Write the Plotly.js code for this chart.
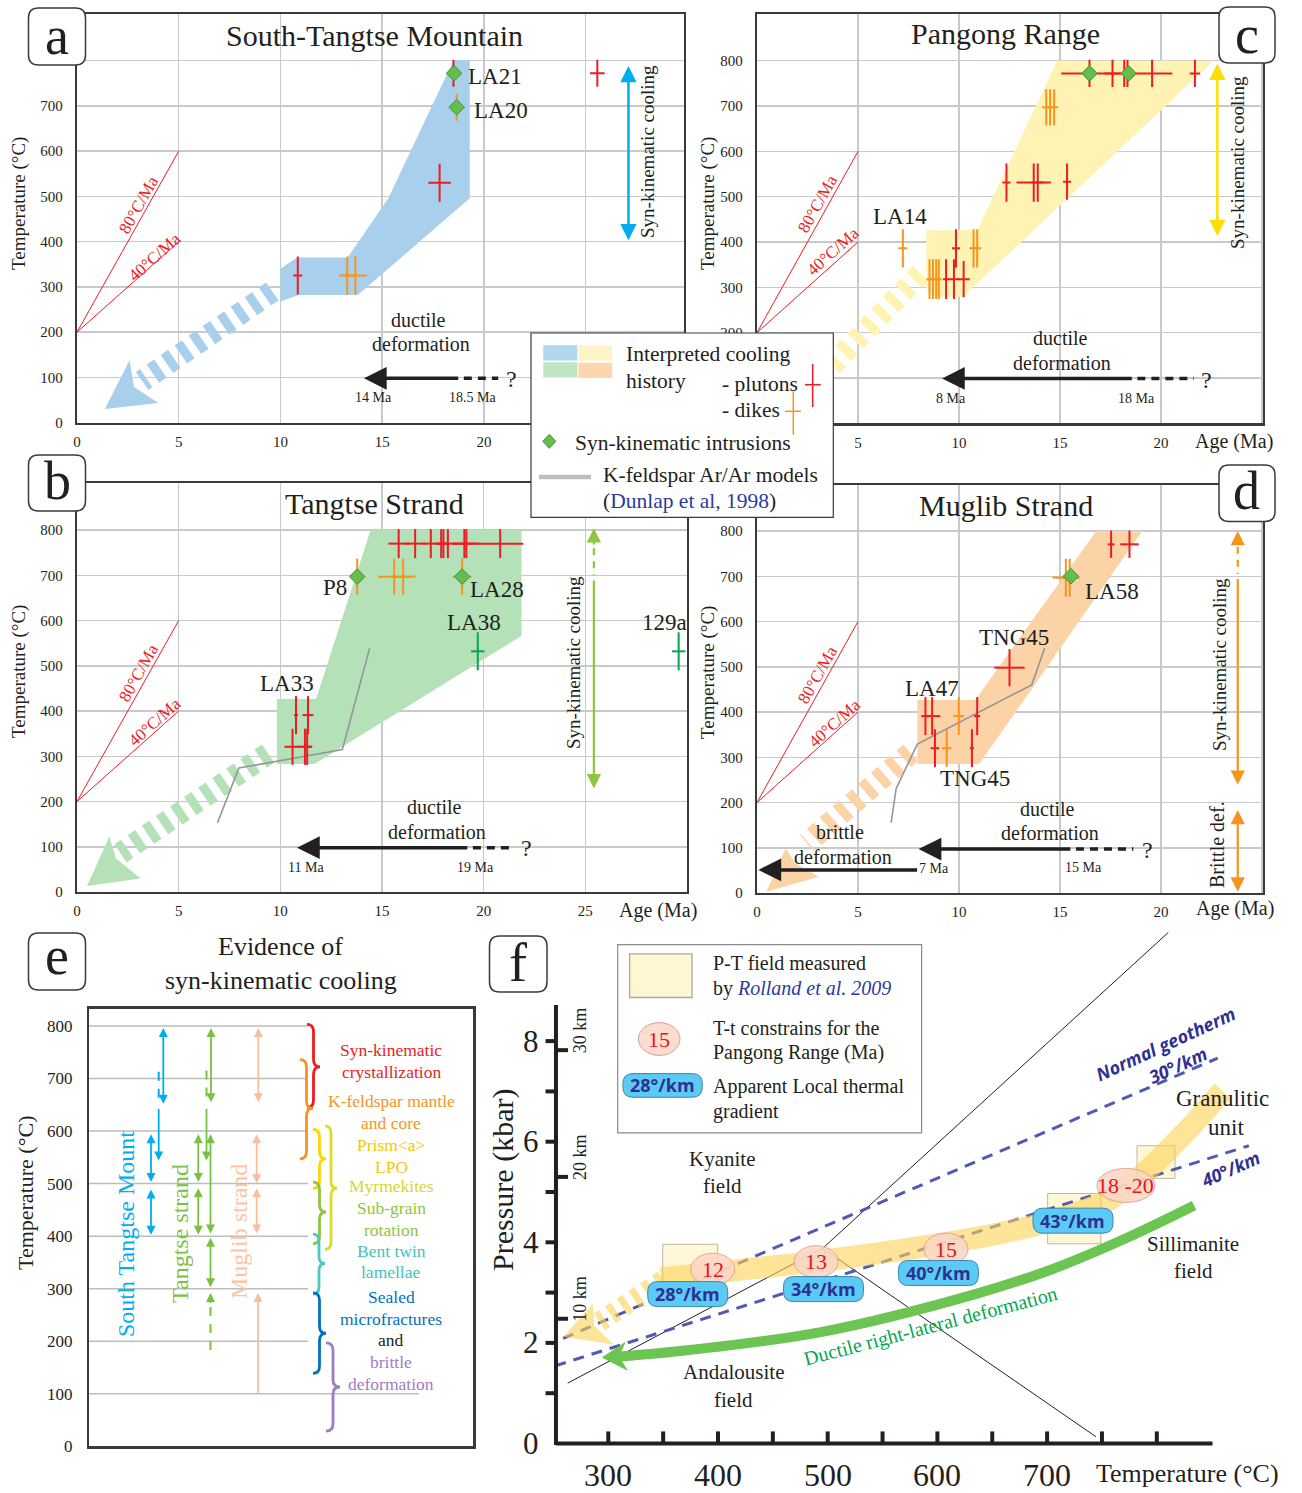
<!DOCTYPE html>
<html>
<head>
<meta charset="utf-8">
<script src="https://cdn.plot.ly/plotly-3.0.1.min.js"></script>
<style>
html,body{margin:0;padding:0;background:#ffffff;}
#chart{width:1302px;height:1493px;}
</style>
</head>
<body>
<div id="chart"></div>
<script>
// ======================= DATA =======================
// shared cooling-rate reference lines (age in Ma, temperature in °C)
const rateAge = [0, 5];
const rate80Temp = [200, 600];
const rate40Temp = [200, 400];

// ---- (a) South-Tangtse Mountain ----
const aBandAge = [10.0, 10.8, 13.3, 15.3, 18.5, 19.3, 19.3, 13.8, 10.9, 10.0];
const aBandTemp = [340, 365, 365, 496, 800, 800, 496, 282, 282, 268];
const aTrendAge = [9.6, 3.2];
const aTrendTemp = [290, 92];
const aHeadAge = [2.58, 1.37, 4.0, 2.8];
const aHeadTemp = [138, 30, 43.5, 79];
const aPlutonAge = [10.85, 17.82, 18.5, 25.57];
const aPlutonTemp = [325, 530, 772, 772];
const aPlutonAgeErr = [0.22, 0.55, 0.05, 0.36];
const aPlutonTempErr = [42, 42, 30, 30];
const aDikeAge = [13.28, 13.68, 18.66];
const aDikeTemp = [325, 325, 697];
const aDikeAgeErr = [0.4, 0.55, 0.05];
const aDikeTempErr = [42, 42, 30];
const aSynAge = [18.53, 18.66];
const aSynTemp = [772, 697];
const aCoolingAge = 27.1;
const aCoolingTemp = [788, 400];
const aDuctileAge = [14.1, 18.81, 20.7];
const aDuctileTemp = 98;

// ---- (c) Pangong Range ----
const cBandAge = [8.38, 10.9, 14.86, 22.6, 10.2, 8.7, 8.38];
const cBandTemp = [426, 426, 800, 800, 279, 279, 300];
const cTrendAge = [8.1, 3.3];
const cTrendTemp = [330, 110];
const cPlutonAge = [9.36, 9.75, 9.85, 10.23, 12.35, 13.7, 13.9, 15.35, 16.46, 17.6, 18.18, 18.34, 19.56, 21.68];
const cPlutonTemp = [318, 318, 386, 318, 531, 531, 531, 533, 772, 772, 772, 772, 772, 772];
const cPlutonAgeErr = [0.15, 0.25, 0.2, 0.3, 0.2, 0.85, 0.3, 0.2, 1.4, 0.4, 0.3, 0.3, 1.0, 0.26];
const cPlutonTempErr = [44, 44, 42, 40, 42, 42, 42, 40, 30, 30, 30, 30, 30, 30];
const cDikeAge = [7.22, 8.54, 8.71, 8.87, 9.0, 10.72, 10.9, 14.32, 14.51, 14.71];
const cDikeTemp = [386, 318, 318, 318, 318, 386, 386, 697, 697, 697];
const cDikeAgeErr = [0.22, 0.15, 0.15, 0.15, 0.15, 0.2, 0.2, 0.2, 0.2, 0.2];
const cDikeTempErr = [42, 44, 44, 44, 44, 42, 42, 40, 40, 40];
const cSynAge = [16.46, 18.4];
const cSynTemp = [772, 772];
const cCoolingAge = 22.79;
const cCoolingTemp = [793, 410];
const cDuctileAge = [9.16, 18.63, 21.63];
const cDuctileTemp = 99;

// ---- (b) Tangtse Strand ----
const bBandAge = [9.83, 11.76, 14.44, 21.86, 21.86, 11.69, 9.83];
const bBandTemp = [426.5, 426.5, 800, 800, 566, 283, 283];
const bTrendAge = [9.4, 2.14];
const bTrendTemp = [306, 85.5];
const bHeadAge = [1.59, 0.49, 3.13, 1.92];
const bHeadTemp = [122, 13, 30, 74];
const bKfsAge = [6.91, 7.96, 13.05, 14.39];
const bKfsTemp = [153, 274, 315, 538.5];
const bPlutonAge = [10.77, 11.36, 10.6, 11.21, 11.32, 15.82, 16.63, 17.4, 17.91, 18.02, 18.24, 19.05, 19.15, 20.81];
const bPlutonTemp = [391, 391, 321, 321, 321, 770, 770, 770, 770, 770, 770, 770, 770, 770];
const bPlutonAgeErr = [0.1, 0.27, 0.4, 0.35, 0.25, 0.5, 0.5, 0.4, 0.3, 0.3, 0.4, 0.6, 0.6, 1.14];
const bPlutonTempErr = [42, 42, 40, 40, 40, 32, 32, 32, 32, 32, 32, 32, 32, 32];
const bDikeAge = [13.78, 15.6, 16.04, 18.94];
const bDikeTemp = [697, 697, 697, 697];
const bDikeAgeErr = [0.05, 0.8, 0.6, 0.47];
const bDikeTempErr = [40, 40, 40, 40];
const bOtherAge = [19.71, 29.59];
const bOtherTemp = [532, 532];
const bOtherAgeErr = [0.33, 0.33];
const bOtherTempErr = [42, 42];
const bSynAge = [13.78, 18.94];
const bSynTemp = [697, 697];
const bCoolingAge = 25.42;
const bCoolingTemp = [804, 765, 700, 229];
const bDuctileAge = [10.82, 19.27, 21.36];
const bDuctileTemp = 98;

// ---- (d) Muglib Strand ----
const dBandAge = [7.94, 10.8, 16.8, 19.07, 11.0, 7.94];
const dBandTemp = [426.5, 426.5, 800, 800, 285, 285];
const dTrendAge = [7.6, 2.48];
const dTrendTemp = [310, 110];
const dHeadAge = [1.42, 0.46, 3.06, 1.9];
const dHeadTemp = [98.7, 3, 36, 65.6];
const dKfsAge = [6.64, 6.89, 7.94, 13.6, 14.24];
const dKfsTemp = [155, 231, 329, 460, 541];
const dPlutonAge = [8.34, 8.67, 10.9, 8.81, 10.64, 12.5, 17.53, 18.44];
const dPlutonTemp = [391, 391, 391, 320, 320, 498, 770.6, 770.6];
const dPlutonAgeErr = [0.2, 0.4, 0.15, 0.21, 0.1, 0.75, 0.17, 0.46];
const dPlutonTempErr = [42, 42, 42, 42, 42, 41, 30, 30];
const dDikeAge = [9.99, 9.39, 15.29, 15.48];
const dDikeTemp = [391, 320, 697, 697];
const dDikeAgeErr = [0.27, 0.24, 0.66, 0.5];
const dDikeTempErr = [42, 42, 42, 42];
const dSynAge = [15.54];
const dSynTemp = [700];
const dCoolingAge = 23.8;
const dCoolingTemp = [800, 770, 705, 239];
const dBrittleTemp = [187, 3];
const dDuctileAge = [8.0, 15.59, 18.63];
const dDuctileTemp = 97;
const dBrittleAge = [0.07, 8.0];
const dBrittleArrowTemp = 51;

// ---- (e) Evidence of syn-kinematic cooling (temperature ranges, °C) ----
const eStmRanges = [[796, 649], [645, 544], [594, 500], [489, 400]];
const eStmDashed = [713, 656];
const eTangtseRanges = [[796, 652], [645, 544], [594, 500], [491, 400], [594, 402], [397, 300], [292, 270]];
const eTangtseDashed = [[715, 656], [265, 169]];
const eMuglibRanges = [[796, 652], [594, 498], [491, 402], [292, 98]];
const eEvidenceRanges = [[803, 645, 722], [736, 547, 643], [603, 491, 547], [610, 375, 491],
                         [503, 386, 446], [404, 290, 348], [292, 139, 215], [197, 29, 113]];
const eEvidenceLines = ['Syn-kinematic', 'crystallization', 'K-feldspar mantle', 'and core', 'Prism&lt;a&gt;', 'LPO',
                        'Myrmekites', 'Sub-grain', 'rotation', 'Bent twin', 'lamellae', 'Sealed', 'microfractures',
                        'and', 'brittle', 'deformation'];
const eTempTicks = [0, 100, 200, 300, 400, 500, 600, 700, 800];

// ---- (f) P-T diagram (T in °C, P in kbar) ----
const pangongT = [348, 405, 490, 600, 657, 718, 761, 794, 827, 860];
const pangongP = [3.28, 3.42, 3.62, 3.96, 4.18, 4.51, 4.91, 5.49, 6.21, 7.01];
const pangongTrendT = [350, 292];
const pangongTrendP = [3.25, 2.42];
const pangongHeadT = [286, 259, 304.6, 287];
const pangongHeadP = [2.78, 2.12, 1.97, 2.35];
const ductileT = [834, 775, 704, 633, 495, 374, 310];
const ductileP = [4.73, 4.11, 3.46, 2.96, 2.22, 1.86, 1.73];
const ductileHeadT = [316, 294, 318, 310];
const ductileHeadP = [2.03, 1.71, 1.44, 1.73];
const geo30T = [258.8, 855.5];
const geo30P = [2.09, 7.66];
const geo40T = [251.7, 883.9];
const geo40P = [1.545, 5.92];
const andKyT = [263, 495.4];
const andKyP = [1.2, 3.88];
const kySilT = [495.4, 810.5];
const kySilP = [3.88, 10.16];
const andSilT = [495.4, 744.5];
const andSilP = [3.88, 0.135];
const ptFieldT0 = [349.6, 700.5, 782];
const ptFieldT1 = [399.7, 749, 816.6];
const ptFieldP0 = [3.18, 3.97, 5.27];
const ptFieldP1 = [3.96, 4.97, 5.92];
const ttLabels = ['12', '13', '15', '18 -20'];
const ttT = [395.2, 489.4, 607.8, 771.9];
const ttP = [3.465, 3.615, 3.865, 5.13];
const gradLabels = ['28°/km', '34°/km', '40°/km', '43°/km'];
const gradT = [372.4, 496.2, 600.9, 723.6];
const gradP = [2.97, 3.07, 3.39, 4.43];
const fTempTicks = [300, 400, 500, 600, 700];
const fTempMinor = [350, 450, 550, 650, 750, 800];
const fPressTicks = [0, 2, 4, 6, 8];
const fPressMinor = [1, 2, 3, 4, 5, 6, 7, 8];
const depthKm = ['10 km', '20 km', '30 km'];
const depthP = [2.48, 5.3, 7.82];
const fAxisT = [252.3, 850.8];
const fAxisP = [0, 8.72];

// ======================= HELPERS =======================
const W = 1302, H = 1493;
const SERIF = "'Liberation Serif','Times New Roman',Times,serif";
const SANS = "'Open Sans','Liberation Sans',Arial,sans-serif";
const INK = '#231F20', RED = '#ED1C24', ORANGE = '#F7941D', NAVY = '#2E3192', LINKBLUE = '#2B3A9F';
const X = px => px / W;
const Y = py => 1 - py / H;
const AX = { a: ['x', 'y'], c: ['x2', 'y2'], b: ['x3', 'y3'], d: ['x4', 'y4'], e: ['x5', 'y5'], f: ['x6', 'y6'] };

// f-panel pixel mapping used for its axis ranges
const F_PX0 = 608.3, F_KX = 1.097, F_PY0 = 1443.5, F_KY = 50.3;
const fT = px => 300 + (px - F_PX0) / F_KX;
const fP = py => (F_PY0 - py) / F_KY;
const fpx = t => F_PX0 + (t - 300) * F_KX;
const fpy = p => F_PY0 - p * F_KY;

const traces = [], shapes = [], ann = [];

function txt(text, px, py, size, o) {
  o = o || {};
  ann.push({
    text: text, x: X(px), y: Y(py), xref: 'paper', yref: 'paper', showarrow: false,
    xanchor: o.anchor || 'center', yanchor: 'middle', align: o.anchor || 'center',
    textangle: o.angle || 0,
    font: { family: o.family || SERIF, size: size, color: o.color || INK,
            weight: o.weight || 'normal', style: o.style || 'normal' }
  });
}
function fillPoly(p, xs, ys, color) {
  traces.push({ type: 'scatter', mode: 'lines', x: xs, y: ys, xaxis: AX[p][0], yaxis: AX[p][1],
    fill: 'toself', fillcolor: color, line: { width: 0, color: 'rgba(0,0,0,0)' }, hoverinfo: 'skip' });
}
function pathT(p, xs, ys, color, width, dash, shape) {
  traces.push({ type: 'scatter', mode: 'lines', x: xs, y: ys, xaxis: AX[p][0], yaxis: AX[p][1],
    line: { color: color, width: width, dash: dash || 'solid', shape: shape || 'linear', smoothing: 1 }, hoverinfo: 'skip' });
}
function crosses(p, xs, ys, ex, ey, color) {
  traces.push({ type: 'scatter', mode: 'markers', x: xs, y: ys, xaxis: AX[p][0], yaxis: AX[p][1],
    marker: { size: 2, color: 'rgba(0,0,0,0)' },
    error_x: { type: 'data', array: ex, visible: true, color: color, thickness: 2, width: 0 },
    error_y: { type: 'data', array: ey, visible: true, color: color, thickness: 2, width: 0 },
    hoverinfo: 'skip' });
}
function diamonds(p, xs, ys) {
  traces.push({ type: 'scatter', mode: 'markers', x: xs, y: ys, xaxis: AX[p][0], yaxis: AX[p][1],
    marker: { symbol: 'diamond', size: 12, color: '#66BD4A', line: { color: '#2F9A3C', width: 1 } }, hoverinfo: 'skip' });
}
function arrow(p, x0, y0, x1, y1, color, width, size, both) {
  ann.push({ xref: AX[p][0], yref: AX[p][1], axref: AX[p][0], ayref: AX[p][1],
    x: x1, y: y1, ax: x0, ay: y0, text: '', showarrow: true,
    arrowhead: 2, arrowsize: size, arrowwidth: width, arrowcolor: color,
    arrowside: both ? 'end+start' : 'end', startarrowhead: 2, startarrowsize: size,
    standoff: 0, startstandoff: 0 });
}
function dLine(p, x0, y0, x1, y1, color, width, layer) {
  shapes.push({ type: 'line', xref: AX[p][0], yref: AX[p][1], x0: x0, y0: y0, x1: x1, y1: y1,
    line: { color: color, width: width }, layer: layer || 'above' });
}
function pLine(x0, y0, x1, y1, color, width) {
  shapes.push({ type: 'line', xref: 'paper', yref: 'paper', x0: X(x0), y0: Y(y0), x1: X(x1), y1: Y(y1),
    line: { color: color, width: width }, layer: 'above' });
}
function pRect(x0, y0, x1, y1, fill, lc, lw) {
  shapes.push({ type: 'rect', xref: 'paper', yref: 'paper', x0: X(x0), y0: Y(y1), x1: X(x1), y1: Y(y0),
    fillcolor: fill, line: { color: lc, width: lw }, layer: 'above' });
}
function pEllipse(x0, y0, x1, y1, fill, lc, lw) {
  shapes.push({ type: 'circle', xref: 'paper', yref: 'paper', x0: X(x0), y0: Y(y1), x1: X(x1), y1: Y(y0),
    fillcolor: fill, line: { color: lc, width: lw }, layer: 'above' });
}
function pRound(x0, y0, x1, y1, r, fill, lc, lw) {
  const q = (x, y) => X(x).toFixed(5) + ',' + Y(y).toFixed(5);
  const path = 'M' + q(x0 + r, y0) + ' L' + q(x1 - r, y0) + ' Q' + q(x1, y0) + ' ' + q(x1, y0 + r) +
    ' L' + q(x1, y1 - r) + ' Q' + q(x1, y1) + ' ' + q(x1 - r, y1) + ' L' + q(x0 + r, y1) +
    ' Q' + q(x0, y1) + ' ' + q(x0, y1 - r) + ' L' + q(x0, y0 + r) + ' Q' + q(x0, y0) + ' ' + q(x0 + r, y0) + ' Z';
  shapes.push({ type: 'path', xref: 'paper', yref: 'paper', path: path, fillcolor: fill,
    line: { color: lc, width: lw }, layer: 'above' });
}

// common pieces of the four T-t panels
function ttPanel(p, o) {
  fillPoly(p, o.bandAge, o.bandTemp, o.bandColor);
  pathT(p, o.trendAge, o.trendTemp, o.bandColor, 22, '9px,8px');
  if (o.headAge) fillPoly(p, o.headAge, o.headTemp, o.bandColor);
  if (o.kfsAge) pathT(p, o.kfsAge, o.kfsTemp, '#939598', 1.6);
  pathT(p, rateAge, rate80Temp, RED, 1);
  pathT(p, rateAge, rate40Temp, RED, 1);
  crosses(p, o.dikeAge, o.dikeTemp, o.dikeAgeErr, o.dikeTempErr, ORANGE);
  crosses(p, o.plutonAge, o.plutonTemp, o.plutonAgeErr, o.plutonTempErr, RED);
  if (o.otherAge) crosses(p, o.otherAge, o.otherTemp, o.otherAgeErr, o.otherTempErr, '#00A651');
  diamonds(p, o.synAge, o.synTemp);
  const da = o.ductileAge, dt = o.ductileTemp;
  arrow(p, da[1], dt, da[0], dt, INK, 3.5, 1.3, false);
  pathT(p, [da[1] + 0.2, da[2]], [dt, dt], INK, 3.5, '8px,6px');
}

// ======================= PANEL a =======================
ttPanel('a', { bandAge: aBandAge, bandTemp: aBandTemp, bandColor: '#A8CFEB', trendAge: aTrendAge, trendTemp: aTrendTemp,
  headAge: aHeadAge, headTemp: aHeadTemp, dikeAge: aDikeAge, dikeTemp: aDikeTemp, dikeAgeErr: aDikeAgeErr, dikeTempErr: aDikeTempErr,
  plutonAge: aPlutonAge, plutonTemp: aPlutonTemp, plutonAgeErr: aPlutonAgeErr, plutonTempErr: aPlutonTempErr,
  synAge: aSynAge, synTemp: aSynTemp, ductileAge: aDuctileAge, ductileTemp: aDuctileTemp });
arrow('a', aCoolingAge, aCoolingTemp[1], aCoolingAge, aCoolingTemp[0], '#00AEEF', 2.5, 1.3, true);

// ======================= PANEL c =======================
ttPanel('c', { bandAge: cBandAge, bandTemp: cBandTemp, bandColor: '#FFF3B3', trendAge: cTrendAge, trendTemp: cTrendTemp,
  dikeAge: cDikeAge, dikeTemp: cDikeTemp, dikeAgeErr: cDikeAgeErr, dikeTempErr: cDikeTempErr,
  plutonAge: cPlutonAge, plutonTemp: cPlutonTemp, plutonAgeErr: cPlutonAgeErr, plutonTempErr: cPlutonTempErr,
  synAge: cSynAge, synTemp: cSynTemp, ductileAge: cDuctileAge, ductileTemp: cDuctileTemp });
arrow('c', cCoolingAge, cCoolingTemp[1], cCoolingAge, cCoolingTemp[0], '#FFDE00', 2.5, 1.3, true);

// ======================= PANEL b =======================
ttPanel('b', { bandAge: bBandAge, bandTemp: bBandTemp, bandColor: '#B5E1B8', trendAge: bTrendAge, trendTemp: bTrendTemp,
  headAge: bHeadAge, headTemp: bHeadTemp, kfsAge: bKfsAge, kfsTemp: bKfsTemp,
  dikeAge: bDikeAge, dikeTemp: bDikeTemp, dikeAgeErr: bDikeAgeErr, dikeTempErr: bDikeTempErr,
  plutonAge: bPlutonAge, plutonTemp: bPlutonTemp, plutonAgeErr: bPlutonAgeErr, plutonTempErr: bPlutonTempErr,
  otherAge: bOtherAge, otherTemp: bOtherTemp, otherAgeErr: bOtherAgeErr, otherTempErr: bOtherTempErr,
  synAge: bSynAge, synTemp: bSynTemp, ductileAge: bDuctileAge, ductileTemp: bDuctileTemp });
arrow('b', bCoolingAge, bCoolingTemp[1], bCoolingAge, bCoolingTemp[0], '#8DC63F', 2.2, 1.3, false);
pathT('b', [bCoolingAge, bCoolingAge], [bCoolingTemp[1] - 5, bCoolingTemp[2]], '#8DC63F', 2.2, '7px,6px');
arrow('b', bCoolingAge, bCoolingTemp[2] - 8, bCoolingAge, bCoolingTemp[3], '#8DC63F', 2.2, 1.3, false);

// ======================= PANEL d =======================
ttPanel('d', { bandAge: dBandAge, bandTemp: dBandTemp, bandColor: '#FCD3A7', trendAge: dTrendAge, trendTemp: dTrendTemp,
  headAge: dHeadAge, headTemp: dHeadTemp, kfsAge: dKfsAge, kfsTemp: dKfsTemp,
  dikeAge: dDikeAge, dikeTemp: dDikeTemp, dikeAgeErr: dDikeAgeErr, dikeTempErr: dDikeTempErr,
  plutonAge: dPlutonAge, plutonTemp: dPlutonTemp, plutonAgeErr: dPlutonAgeErr, plutonTempErr: dPlutonTempErr,
  synAge: dSynAge, synTemp: dSynTemp, ductileAge: dDuctileAge, ductileTemp: dDuctileTemp });
arrow('d', dCoolingAge, dCoolingTemp[1], dCoolingAge, dCoolingTemp[0], ORANGE, 2.2, 1.3, false);
pathT('d', [dCoolingAge, dCoolingAge], [dCoolingTemp[1] - 5, dCoolingTemp[2]], ORANGE, 2.2, '7px,6px');
arrow('d', dCoolingAge, dCoolingTemp[2] - 8, dCoolingAge, dCoolingTemp[3], ORANGE, 2.2, 1.3, false);
arrow('d', dCoolingAge, dBrittleTemp[0], dCoolingAge, dBrittleTemp[1], ORANGE, 2.2, 1.3, true);
arrow('d', dBrittleAge[1], dBrittleArrowTemp, dBrittleAge[0], dBrittleArrowTemp, INK, 3.5, 1.3, false);

// ======================= PANEL e =======================
eTempTicks.slice(1).forEach(t => dLine('e', 0, t, t === 100 ? 330 : 219, t, '#BDBDBD', 1.5, 'below'));
const CYAN = '#00AEEF', LGREEN = '#7AC143', PEACH = '#F9BE9C';
arrow('e', 74.3, eStmRanges[0][1], 74.3, eStmRanges[0][0], CYAN, 1.8, 1, true);
arrow('e', 69.7, eStmRanges[1][0], 69.7, eStmRanges[1][1], CYAN, 1.8, 1, false);
arrow('e', 62, eStmRanges[2][1], 62, eStmRanges[2][0], CYAN, 1.8, 1, true);
arrow('e', 62, eStmRanges[3][1], 62, eStmRanges[3][0], CYAN, 1.8, 1, true);
pathT('e', [69.7, 69.7], eStmDashed, CYAN, 2, '9px,8px');
arrow('e', 122, eTangtseRanges[0][1], 122, eTangtseRanges[0][0], LGREEN, 1.8, 1, true);
arrow('e', 117.5, eTangtseRanges[1][0], 117.5, eTangtseRanges[1][1], LGREEN, 1.8, 1, false);
arrow('e', 109.3, eTangtseRanges[2][1], 109.3, eTangtseRanges[2][0], LGREEN, 1.8, 1, true);
arrow('e', 109.3, eTangtseRanges[3][1], 109.3, eTangtseRanges[3][0], LGREEN, 1.8, 1, true);
arrow('e', 121.5, eTangtseRanges[4][1], 121.5, eTangtseRanges[4][0], LGREEN, 1.8, 1, true);
arrow('e', 121.5, eTangtseRanges[5][1], 121.5, eTangtseRanges[5][0], LGREEN, 1.8, 1, true);
arrow('e', 121.5, eTangtseRanges[6][1], 121.5, eTangtseRanges[6][0], LGREEN, 1.8, 1, false);
pathT('e', [117.5, 117.5], eTangtseDashed[0], LGREEN, 2, '9px,8px');
pathT('e', [121.5, 121.5], eTangtseDashed[1], LGREEN, 2, '9px,8px');
arrow('e', 169.3, eMuglibRanges[0][1], 169.3, eMuglibRanges[0][0], PEACH, 1.8, 1, true);
arrow('e', 167.7, eMuglibRanges[1][1], 167.7, eMuglibRanges[1][0], PEACH, 1.8, 1, true);
arrow('e', 167.7, eMuglibRanges[2][1], 167.7, eMuglibRanges[2][0], PEACH, 1.8, 1, true);
arrow('e', 169, eMuglibRanges[3][1], 169, eMuglibRanges[3][0], PEACH, 1.8, 1, false);
const braceStyle = [[218, 13, RED], [211, 13, ORANGE], [224, 13, '#FFD400'], [236, 12, '#D7DF23'],
                    [224, 13, '#8DC63F'], [224, 12, '#4CC9C4'], [224, 13, '#0072BC'], [237, 14, '#A07CC5']];
eEvidenceRanges.forEach((r, i) => {
  const x0 = braceStyle[i][0], w = braceStyle[i][1], col = braceStyle[i][2];
  const yt = r[0], yb = r[1], ym = r[2], xm = x0 + w / 2, x1 = x0 + w, d = 14;
  const pth = `M ${x0},${yt} Q ${xm},${yt} ${xm},${yt - d} L ${xm},${ym + d} Q ${xm},${ym} ${x1},${ym} ` +
              `Q ${xm},${ym} ${xm},${ym - d} L ${xm},${yb + d} Q ${xm},${yb} ${x0},${yb}`;
  shapes.push({ type: 'path', xref: 'x5', yref: 'y5', path: pth, line: { color: col, width: 2.8 }, layer: 'above' });
});

// ======================= PANEL f =======================
ptFieldT0.forEach((t, i) => shapes.push({ type: 'rect', xref: 'x6', yref: 'y6', x0: t, x1: ptFieldT1[i],
  y0: ptFieldP0[i], y1: ptFieldP1[i], fillcolor: 'rgba(255,247,212,0.95)', line: { color: '#B9B9A8', width: 1 }, layer: 'below' }));
pathT('f', andKyT, andKyP, INK, 1);
pathT('f', kySilT, kySilP, INK, 1);
pathT('f', andSilT, andSilP, INK, 1);
pathT('f', geo30T, geo30P, '#5059B4', 3, '11px,8px');
pathT('f', geo40T, geo40P, '#5059B4', 3, '11px,8px');
const BANDY = 'rgba(253,210,85,0.6)';
pathT('f', pangongT, pangongP, BANDY, 22, 'solid', 'spline');
pathT('f', pangongTrendT, pangongTrendP, BANDY, 20, '7px,7px');
fillPoly('f', pangongHeadT, pangongHeadP, BANDY);
pathT('f', ductileT, ductileP, '#6CC552', 10, 'solid', 'spline');
fillPoly('f', ductileHeadT, ductileHeadP, '#6CC552');
dLine('f', fAxisT[0], fAxisP[0], fAxisT[1], fAxisP[0], INK, 4);
dLine('f', fAxisT[0], fAxisP[0] - 0.03, fAxisT[0], fAxisP[1], INK, 4);
fTempTicks.concat(fTempMinor).forEach(t => dLine('f', t, 0, t, 0.24, INK, 4));
fPressMinor.forEach(p => dLine('f', fAxisT[0], p, fAxisT[0] - 9.5, p, INK, 4));
depthP.forEach(p => dLine('f', fAxisT[0], p, fAxisT[0] + 11, p, INK, 4));
ttT.forEach((t, i) => {
  const hw = (i === 3 ? 29 : 22) / F_KX, hh = (i === 3 ? 17 : 16) / F_KY;
  shapes.push({ type: 'circle', xref: 'x6', yref: 'y6', x0: t - hw, x1: t + hw, y0: ttP[i] - hh, y1: ttP[i] + hh,
    fillcolor: 'rgba(251,214,198,0.88)', line: { color: 'rgba(225,150,130,0.8)', width: 1 }, layer: 'above' });
});
gradT.forEach((t, i) => {
  const cx = fpx(t), cy = fpy(gradP[i]);
  pRound(cx - 40, cy - 12.5, cx + 40, cy + 12.5, 10, '#5BCBF5', '#3C86AD', 1);
});

// ======================= LEGENDS / FRAMES =======================
pRect(531, 333, 833.3, 517.3, '#FFFFFF', '#3A3A3A', 1.2);
pRect(543.3, 345.3, 577.3, 360.5, '#B3D6EF', 'rgba(0,0,0,0)', 0);
pRect(578.3, 345.3, 612.3, 360.5, '#FFF4C8', 'rgba(0,0,0,0)', 0);
pRect(543.3, 362.3, 577.3, 377.5, '#BFE5C2', 'rgba(0,0,0,0)', 0);
pRect(578.3, 362.7, 612.3, 377.9, '#FDD6B0', 'rgba(0,0,0,0)', 0);
pLine(805, 384.7, 820.7, 384.7, RED, 1.5);
pLine(812.7, 364, 812.7, 407, RED, 1.5);
pLine(785, 411.3, 801, 411.3, ORANGE, 1.5);
pLine(793.3, 391.3, 793.3, 434.7, ORANGE, 1.5);
(function () {
  const cx = 549.3, cy = 441.3, q = (x, y) => X(x).toFixed(5) + ',' + Y(y).toFixed(5);
  shapes.push({ type: 'path', xref: 'paper', yref: 'paper',
    path: 'M' + q(cx, cy - 7) + ' L' + q(cx + 6.5, cy) + ' L' + q(cx, cy + 7) + ' L' + q(cx - 6.5, cy) + ' Z',
    fillcolor: '#66BD4A', line: { color: '#2F9A3C', width: 1 }, layer: 'above' });
})();
pLine(539, 477, 591, 477, '#BCBEC0', 4.5);

pRect(617.7, 944.7, 921.6, 1132.9, '#FFFFFF', '#8A8A8A', 1.2);
pRect(629.6, 953.8, 692, 997.5, '#FFF7D2', '#A8A8A0', 1.3);
pEllipse(638.4, 1022.6, 680, 1055.4, '#FBDCD0', '#D9A090', 1);
pRound(622.9, 1073.6, 702.3, 1097.2, 10, '#5BCBF5', '#3C86AD', 1);

pRound(28.5, 8, 85.5, 65, 10, '#FFFFFF', '#3A3A3A', 1.5);
pRound(28.5, 455, 85.5, 511, 10, '#FFFFFF', '#3A3A3A', 1.5);
pRound(1219, 7, 1275, 63, 10, '#FFFFFF', '#3A3A3A', 1.5);
pRound(1219, 465, 1275, 521.5, 10, '#FFFFFF', '#3A3A3A', 1.5);
pRound(28.5, 933, 85.5, 990, 10, '#FFFFFF', '#3A3A3A', 1.5);
pRound(489.5, 936, 547, 992, 10, '#FFFFFF', '#3A3A3A', 1.5);

// ======================= TEXT =======================
txt('a', 57, 36, 54); txt('b', 57, 481, 54); txt('c', 1247, 35, 54);
txt('d', 1246, 491, 54); txt('e', 57, 956, 54); txt('f', 518, 963, 54);

txt('South-Tangtse Mountain', 374, 36, 30);
txt('LA21', 495, 77, 23); txt('LA20', 501, 111, 23);
txt('80°C/Ma', 138, 205, 17, { color: RED, angle: -60.7 });
txt('40°C/Ma', 154, 257, 17, { color: RED, angle: -41.7 });
txt('Syn-kinematic cooling', 647, 152, 19, { angle: -90 });
txt('ductile', 418, 320, 20); txt('deformation', 420.5, 344, 20);
txt('14 Ma', 373, 397, 14); txt('18.5 Ma', 472, 397, 14); txt('?', 511, 379, 24);
txt('Temperature (°C)', 19, 204, 19, { angle: -90 });

txt('Pangong Range', 1006, 34, 30);
txt('LA14', 900, 217, 23);
txt('80°C/Ma', 817, 204, 17, { color: RED, angle: -60.8 });
txt('40°C/Ma', 833, 252, 17, { color: RED, angle: -41.9 });
txt('Syn-kinematic cooling', 1237, 163, 19, { angle: -90 });
txt('ductile', 1060, 338, 20); txt('deformation', 1062, 363, 20);
txt('8 Ma', 951, 398, 14); txt('18 Ma', 1136, 398, 14); txt('?', 1206, 380, 24);
txt('Age (Ma)', 1234, 441, 20);
txt('Temperature (°C)', 708, 204, 19, { angle: -90 });

txt('Tangtse Strand', 374, 503, 30);
txt('P8', 335, 588, 23); txt('LA28', 497, 590, 23); txt('LA38', 474, 622, 23);
txt('129a', 664, 622, 23); txt('LA33', 287, 683, 23);
txt('80°C/Ma', 138, 673, 17, { color: RED, angle: -60.7 });
txt('40°C/Ma', 154, 722, 17, { color: RED, angle: -41.7 });
txt('Syn-kinematic cooling', 573, 663, 19, { angle: -90 });
txt('ductile', 434, 807, 20); txt('deformation', 437, 832, 20);
txt('11 Ma', 306, 867, 14); txt('19 Ma', 475, 867, 14); txt('?', 526, 848, 24);
txt('Age (Ma)', 658, 910, 20);
txt('Temperature (°C)', 19, 672, 19, { angle: -90 });

txt('Muglib Strand', 1006, 505, 30);
txt('TNG45', 1014, 637, 23); txt('LA47', 932, 688, 23); txt('TNG45', 975, 778, 23); txt('LA58', 1112, 591, 23);
txt('80°C/Ma', 817, 675, 17, { color: RED, angle: -60.8 });
txt('40°C/Ma', 834, 723, 17, { color: RED, angle: -41.9 });
txt('Syn-kinematic cooling', 1219, 665, 19, { angle: -90 });
txt('Brittle def.', 1217, 845, 20, { angle: -90 });
txt('ductile', 1047, 809, 20); txt('deformation', 1050, 833, 20);
txt('brittle', 840, 832, 20); txt('deformation', 843, 857, 20);
txt('7 Ma', 934, 868, 14); txt('15 Ma', 1083, 867, 14); txt('?', 1147, 850, 24);
txt('Age (Ma)', 1235, 908, 20);
txt('Temperature (°C)', 708, 673, 19, { angle: -90 });

txt('Interpreted cooling', 624.3, 354, 21.5, { anchor: 'left' });
txt('history', 624.3, 381, 21.5, { anchor: 'left' });
txt('- plutons', 720, 384, 21.5, { anchor: 'left' });
txt('- dikes', 720, 410, 21.5, { anchor: 'left' });
txt('Syn-kinematic intrusions', 573.3, 443, 21.5, { anchor: 'left' });
txt('K-feldspar Ar/Ar models', 601, 475, 21.5, { anchor: 'left' });
txt('(<span style="color:' + LINKBLUE + '">Dunlap et al, 1998</span>)', 601, 501, 21.5, { anchor: 'left' });

txt('Evidence of', 280, 946, 26); txt('syn-kinematic cooling', 281, 981, 26);
txt('Temperature (°C)', 25, 1193, 22, { angle: -90 });
txt('South Tangtse Mount', 126, 1234, 24, { angle: -90, color: CYAN });
txt('Tangtse strand', 180, 1234, 24, { angle: -90, color: LGREEN });
txt('Muglib strand', 239, 1232, 24, { angle: -90, color: '#FBC4A4' });
const eLineY = [1050, 1072, 1101, 1122.5, 1144.5, 1166.5, 1185.5, 1207.5, 1229.5, 1250.5, 1271.5, 1296.5, 1318.5, 1340, 1361.5, 1383.5];
const eLineC = [RED, RED, ORANGE, ORANGE, '#F5C800', '#F5C800', '#D2DA2A', '#8DC63F', '#8DC63F', '#40C4C0', '#40C4C0',
                '#0072BC', '#0072BC', INK, '#A07CC5', '#A07CC5'];
eEvidenceLines.forEach((s, i) => txt(s, 391, eLineY[i], 17.5, { color: eLineC[i] }));

txt('Kyanite', 722, 1159, 21); txt('field', 722, 1186, 21);
txt('Andalousite', 733, 1372, 21); txt('field', 733, 1400, 21);
txt('Sillimanite', 1193, 1244, 21); txt('field', 1193, 1271, 21);
txt('Granulitic', 1222, 1098, 23); txt('unit', 1226, 1127, 23);
txt('Normal geotherm', 1165, 1044, 18, { family: SANS, color: NAVY, weight: 'bold', style: 'italic', angle: -24.7 });
txt('30°/km', 1178, 1065, 18, { family: SANS, color: NAVY, weight: 'bold', style: 'italic', angle: -24.7 });
txt('40°/km', 1230, 1169, 18, { family: SANS, color: NAVY, weight: 'bold', style: 'italic', angle: -24 });
txt('Ductile right-lateral deformation', 930, 1326, 20, { color: '#00A651', angle: -14.7 });
ttLabels.forEach((s, i) => txt(s, fpx(ttT[i]), fpy(ttP[i]), 22, { color: '#E8141C' }));
gradLabels.forEach((s, i) => txt(s, fpx(gradT[i]), fpy(gradP[i]), 18, { family: SANS, color: NAVY, weight: 'bold' }));
fTempTicks.forEach(t => txt(String(t), fpx(t), 1475, 32));
fPressTicks.forEach(p => txt(String(p), 541, fpy(p), 31, { anchor: 'right' }));
depthKm.forEach((s, i) => txt(s, 580, fpy(depthP[i]) - 20, 18, { angle: -90 }));
txt('Pressure (kbar)', 503, 1180, 30, { angle: -90 });
txt('Temperature (°C)', 1187, 1473, 26);
txt('P-T field measured', 711, 963, 20, { anchor: 'left' });
txt('by <i><span style="color:' + LINKBLUE + '">Rolland et al. 2009</span></i>', 711, 988, 20, { anchor: 'left' });
txt('T-t constrains for the', 711, 1027.5, 20, { anchor: 'left' });
txt('Pangong Range (Ma)', 711, 1052, 20, { anchor: 'left' });
txt('Apparent Local thermal', 711, 1086, 20, { anchor: 'left' });
txt('gradient', 711, 1111, 20, { anchor: 'left' });
txt('15', 659.2, 1039, 22, { color: '#E8141C' });
txt('28°/km', 662.6, 1085.4, 18, { family: SANS, color: NAVY, weight: 'bold' });

// ======================= AXES =======================
const TICKF = { family: SERIF, size: 15, color: INK };
function ttAxes(xdom, xr, ydom, yr, xtext, ytext, anchorX, anchorY) {
  return [{
    domain: xdom, range: xr, anchor: anchorY, showgrid: true, gridcolor: '#C9C9C9', gridwidth: 1.5,
    showline: true, mirror: true, linecolor: '#3A3A3A', linewidth: 2.2, zeroline: false, ticks: '',
    tickmode: 'array', tickvals: [0, 5, 10, 15, 20, 25], ticktext: xtext, tickfont: TICKF, ticklabelstandoff: 4, fixedrange: true
  }, {
    domain: ydom, range: yr, anchor: anchorX, showgrid: true, gridcolor: '#C9C9C9', gridwidth: 1.5,
    showline: true, mirror: true, linecolor: '#3A3A3A', linewidth: 2.2, zeroline: false, ticks: '',
    tickmode: 'array', tickvals: [0, 100, 200, 300, 400, 500, 600, 700, 800], ticktext: ytext,
    tickfont: TICKF, ticklabelstandoff: 9, fixedrange: true
  }];
}
const yAll = ['0', '100', '200', '300', '400', '500', '600', '700', '800'];
// labels hidden behind the central legend box are left empty
const [xa, ya] = ttAxes([X(77), X(684)], [0, 29.83], [Y(422.7), Y(14)], [0, 903],
  ['0', '5', '10', '15', '20', ''], ['0', '100', '200', '300', '400', '500', '600', '700', ''], 'x', 'y');
const [xc, yc] = ttAxes([X(757), X(1263)], [0, 25.05], [Y(423.3), Y(14)], [0, 903],
  ['', '5', '10', '15', '20', ''], ['', '', '200', '300', '400', '500', '600', '700', '800'], 'x2', 'y2');
const [xb, yb] = ttAxes([X(77), X(687)], [0, 30], [Y(892), Y(483)], [0, 904],
  ['0', '5', '10', '15', '20', '25'], yAll, 'x3', 'y3');
const [xd, yd] = ttAxes([X(757), X(1263)], [0, 25.05], [Y(893), Y(485)], [0, 901.7],
  ['0', '5', '10', '15', '20', ''], yAll, 'x4', 'y4');

const layout = {
  width: W, height: H, margin: { l: 0, r: 0, t: 0, b: 0 },
  paper_bgcolor: '#FFFFFF', plot_bgcolor: 'rgba(0,0,0,0)', showlegend: false,
  xaxis: xa, yaxis: ya, xaxis2: xc, yaxis2: yc, xaxis3: xb, yaxis3: yb, xaxis4: xd, yaxis4: yd,
  xaxis5: { domain: [X(89), X(473.3)], range: [0, 384.3], anchor: 'y5', showgrid: false, zeroline: false,
    showline: true, mirror: true, linecolor: '#3A3A3A', linewidth: 2.2, showticklabels: false, ticks: '', fixedrange: true },
  yaxis5: { domain: [Y(1446.4), Y(1008.6)], range: [0, 833], anchor: 'x5', showgrid: false, zeroline: false,
    showline: true, mirror: true, linecolor: '#3A3A3A', linewidth: 2.2, ticks: '', tickmode: 'array',
    tickvals: eTempTicks, tickfont: { family: SERIF, size: 17, color: INK }, ticklabelstandoff: 11, fixedrange: true },
  xaxis6: { domain: [X(495), X(1300)], range: [fT(495), fT(1300)], anchor: 'y6', visible: false, fixedrange: true },
  yaxis6: { domain: [Y(1493), Y(925)], range: [fP(1493), fP(925)], anchor: 'x6', visible: false, fixedrange: true },
  shapes: shapes, annotations: ann
};

Plotly.newPlot('chart', traces, layout, { staticPlot: true, displayModeBar: false });
</script>
</body>
</html>
